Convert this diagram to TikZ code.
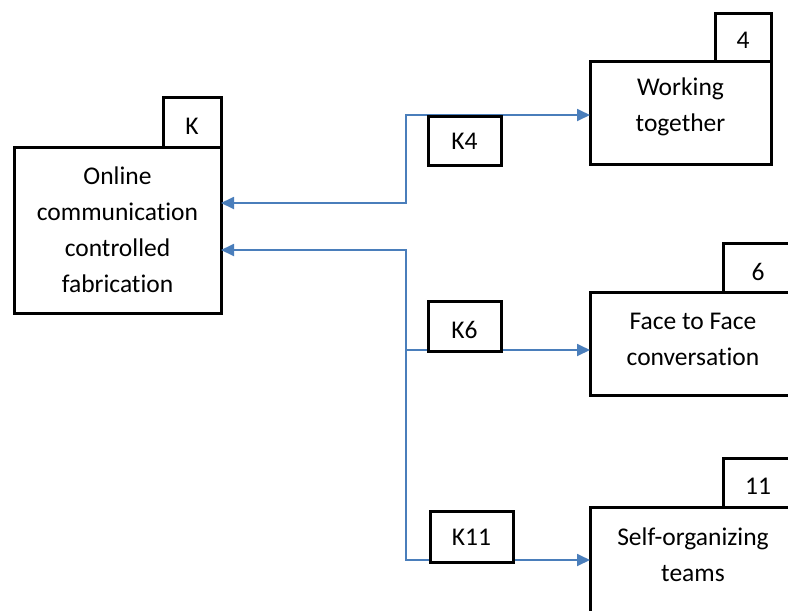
\documentclass[tikz,border=0pt]{standalone}
\usepackage{fontspec}
\setmainfont{Carlito}[Ligatures=NoCommon]
\usetikzlibrary{arrows.meta}
\definecolor{linkblue}{RGB}{74,126,187}
\begin{document}
\begin{tikzpicture}[x=1pt,y=-1pt,
 box/.style={draw=black, line width=3pt, fill=white, inner sep=0pt, outer sep=0pt},
 txt/.style={font=\fontsize{25.5}{36}\selectfont, align=center, inner sep=0pt},
 link/.style={draw=linkblue, line width=1.8pt},
 tip/.style={arrows={-Triangle[length=13pt,width=12pt]}},
 tips/.style={arrows={Triangle[length=13pt,width=12pt]-Triangle[length=13pt,width=12pt]}}]
\useasboundingbox (0,0) rectangle (788,611);
\clip (0,0) rectangle (788,611);
\fill[white] (0,0) rectangle (788,611);

% junction coordinates
\coordinate (j1) at (406,115);
\coordinate (j2) at (406,203);
\coordinate (j3) at (406,250);
\coordinate (j4) at (406,350);
\coordinate (j5) at (406,560);

% main boxes
\node[box, minimum width=207pt, minimum height=166pt] (main) at (117.5,230) {};
\node[box, minimum width=181pt, minimum height=103pt] (work) at (680.5,112.5) {};
\node[box, minimum width=206pt, minimum height=103pt] (face) at (693,343.5) {};
\node[box, minimum width=206pt, minimum height=130pt] (self) at (693,572) {};

% connectors
\draw[link, tips] (main.east |- j2) -- (j2) -- (j1) -- (work.west |- j1);
\draw[link, tips] (main.east |- j3) -- (j3) -- (j5) -- (self.west |- j5);
\draw[link, tip] (j4) -- (face.west |- j4);

% tags
\node[box, minimum width=58pt, minimum height=50pt] (tagK) at (192,122) {};
\node[box, minimum width=56pt, minimum height=48pt] (tag4) at (743,37) {};
\node[box, minimum width=70pt, minimum height=49pt] (tag6) at (758,267.5) {};
\node[box, minimum width=70pt, minimum height=49pt] (tag11) at (758,482.5) {};

% link label boxes
\node[box, minimum width=73pt, minimum height=49pt] (k4) at (464.5,140.5) {};
\node[box, minimum width=73pt, minimum height=50pt] (k6) at (464.5,326) {};
\node[box, minimum width=83pt, minimum height=51pt] (k11) at (471.5,536.5) {};

% texts
\node[txt] (maint) at (117.5,230) {Online\\communication\\controlled\\fabrication};
\node[txt] (workt) at (680.5,107) {Working\\together};
\node[txt] (facet) at (693,339) {Face to Face\\conversation};
\node[txt] (selft) at (693,554.5) {Self-organizing\\teams};
\node[txt] (tagKt) at (192,126) {K};
\node[txt] (tag4t) at (743,40) {4};
\node[txt] (tag6t) at (758,272) {6};
\node[txt] (tag11t) at (758,486) {11};
\node[txt] (k4t) at (464.5,141) {K4};
\node[txt] (k6t) at (464.5,330) {K6};
\node[txt] (k11t) at (471.5,537) {K11};
\end{tikzpicture}
\end{document}
